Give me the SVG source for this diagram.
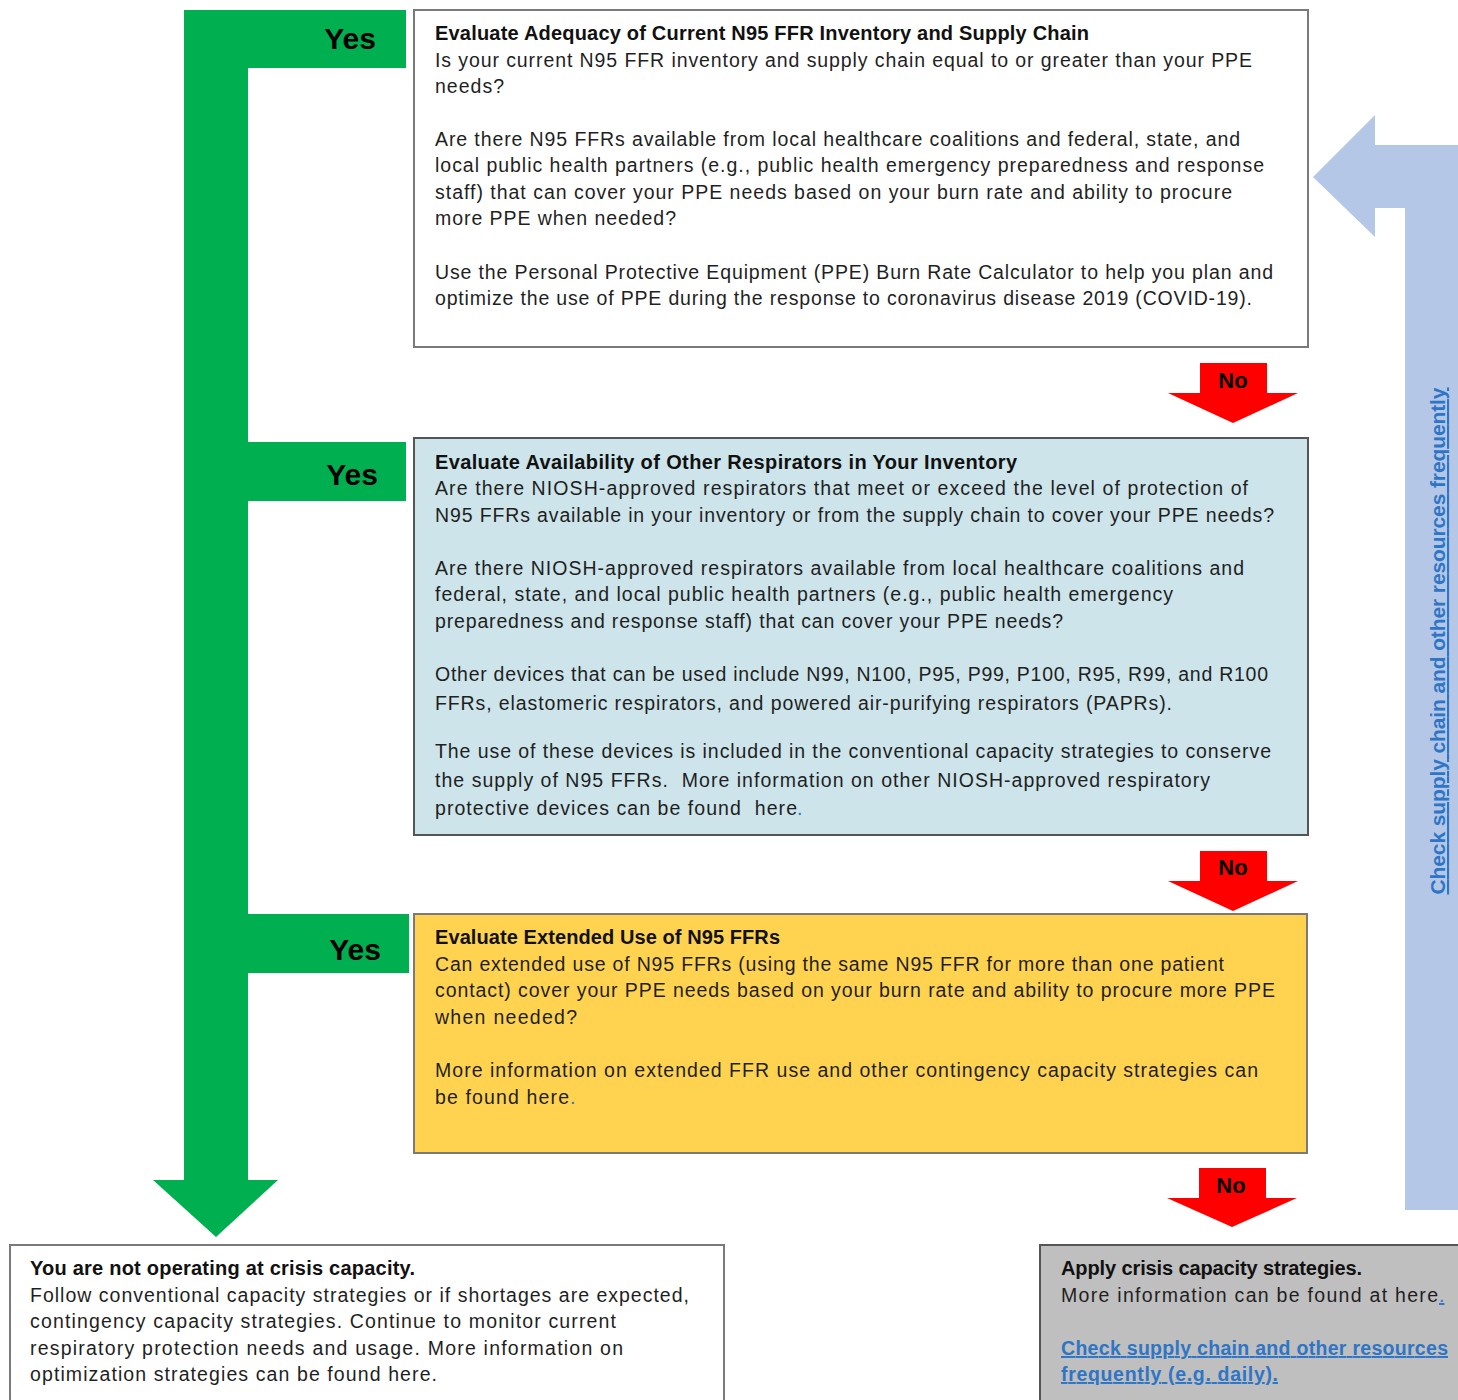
<svg xmlns="http://www.w3.org/2000/svg" width="1458" height="1400" viewBox="0 0 1458 1400">
<style>
text{font-family:"Liberation Sans",Arial,sans-serif;}
.t{font-size:19.5px;fill:#1f1f1f;}
.b{font-size:20px;font-weight:bold;fill:#111;}
.yes{font-size:30px;font-weight:bold;fill:#000;}
.no{font-size:22px;font-weight:bold;fill:#000;}
.lnk{fill:#2E75C6;}
.box{stroke:#7a7a7a;stroke-width:2;}
</style>
<rect x="0" y="0" width="1458" height="1400" fill="#fff"/>
<g id="connectors">
  <path id="yes-arrow" d="M184,10 H406 V68 H248 V442 H406 V501 H248 V914 H409 V973 H248 V1180 H278 L216,1237 L153,1180 H184 Z" fill="#00B050"/>
  <text class="yes" x="376" y="49" text-anchor="end">Yes</text>
  <text class="yes" x="378" y="485" text-anchor="end">Yes</text>
  <text class="yes" x="381" y="960" text-anchor="end">Yes</text>
  <path id="no1" d="M1200,363 H1267 V393 H1298 L1233,423 L1168,393 H1200 Z" fill="#FF0000"/>
  <text class="no" x="1233" y="388" text-anchor="middle">No</text>
  <path id="no2" d="M1200,851 H1267 V881 H1298 L1233,911 L1168,881 H1200 Z" fill="#FF0000"/>
  <text class="no" x="1233" y="875" text-anchor="middle">No</text>
  <path id="no3" d="M1199,1168 H1266 V1198 H1297 L1232,1227 L1167,1198 H1199 Z" fill="#FF0000"/>
  <text class="no" x="1231" y="1193" text-anchor="middle">No</text>
  <path id="loop-arrow" d="M1458,145 H1375 V115 L1313,177 L1375,237 V208 H1405 V1210 H1458 Z" fill="#B4C7E7"/>
  <text transform="translate(1445,641) rotate(-90)" text-anchor="middle" font-size="21" font-weight="bold" fill="#2E75C6" text-decoration="underline" textLength="507">Check supply chain and other resources frequently</text>
</g>
<g id="node-n95">
  <rect class="box" x="414" y="10" width="894" height="337" fill="#fff"/>
  <text class="b" x="435" y="40" textLength="654">Evaluate Adequacy of Current N95 FFR Inventory and Supply Chain</text>
  <text class="t" x="435" y="67" textLength="817">Is your current N95 FFR inventory and supply chain equal to or greater than your PPE</text>
  <text class="t" x="435" y="93" textLength="69">needs?</text>
  <text class="t" x="435" y="146" textLength="805">Are there N95 FFRs available from local healthcare coalitions and federal, state, and</text>
  <text class="t" x="435" y="172" textLength="829">local public health partners (e.g., public health emergency preparedness and response</text>
  <text class="t" x="435" y="199" textLength="797">staff) that can cover your PPE needs based on your burn rate and ability to procure</text>
  <text class="t" x="435" y="225" textLength="241">more PPE when needed?</text>
  <text class="t" x="435" y="279" textLength="838">Use the Personal Protective Equipment (PPE) Burn Rate Calculator to help you plan and</text>
  <text class="t" x="435" y="305" textLength="817">optimize the use of PPE during the response to coronavirus disease 2019 (COVID-19).</text>
</g>
<g id="node-other">
  <rect x="414" y="438" width="894" height="397" fill="#CDE4EA" stroke="#555" stroke-width="2"/>
  <text class="b" x="435" y="469" textLength="582">Evaluate Availability of Other Respirators in Your Inventory</text>
  <text class="t" x="435" y="495" textLength="813">Are there NIOSH-approved respirators that meet or exceed the level of protection of</text>
  <text class="t" x="435" y="522" textLength="839">N95 FFRs available in your inventory or from the supply chain to cover your PPE needs?</text>
  <text class="t" x="435" y="575" textLength="809">Are there NIOSH-approved respirators available from local healthcare coalitions and</text>
  <text class="t" x="435" y="601" textLength="738">federal, state, and local public health partners (e.g., public health emergency</text>
  <text class="t" x="435" y="628" textLength="628">preparedness and response staff) that can cover your PPE needs?</text>
  <text class="t" x="435" y="681" textLength="833">Other devices that can be used include N99, N100, P95, P99, P100, R95, R99, and R100</text>
  <text class="t" x="435" y="710" textLength="737">FFRs, elastomeric respirators, and powered air-purifying respirators (PAPRs).</text>
  <text class="t" x="435" y="758" textLength="836">The use of these devices is included in the conventional capacity strategies to conserve</text>
  <text class="t" x="435" y="787" textLength="775" xml:space="preserve">the supply of N95 FFRs.  More information on other NIOSH-approved respiratory</text>
  <text class="t" x="435" y="815" textLength="362" xml:space="preserve">protective devices can be found  here</text>
  <text class="t lnk" x="797" y="815">.</text>
</g>
<g id="node-extended">
  <rect class="box" x="414" y="914" width="893" height="239" fill="#FFD34F"/>
  <text class="b" x="435" y="944" textLength="345">Evaluate Extended Use of N95 FFRs</text>
  <text class="t" x="435" y="971" textLength="789">Can extended use of N95 FFRs (using the same N95 FFR for more than one patient</text>
  <text class="t" x="435" y="997" textLength="840">contact) cover your PPE needs based on your burn rate and ability to procure more PPE</text>
  <text class="t" x="435" y="1024" textLength="142">when needed?</text>
  <text class="t" x="435" y="1077" textLength="823">More information on extended FFR use and other contingency capacity strategies can</text>
  <text class="t" x="435" y="1104" textLength="134">be found here</text>
  <text class="t lnk" x="570" y="1104">.</text>
</g>
<g id="node-not-crisis">
  <rect class="box" x="10" y="1245" width="714" height="170" fill="#fff"/>
  <text class="b" x="30" y="1275" textLength="385">You are not operating at crisis capacity.</text>
  <text class="t" x="30" y="1302" textLength="659">Follow conventional capacity strategies or if shortages are expected,</text>
  <text class="t" x="30" y="1328" textLength="586">contingency capacity strategies. Continue to monitor current</text>
  <text class="t" x="30" y="1355" textLength="593">respiratory protection needs and usage. More information on</text>
  <text class="t" x="30" y="1381" textLength="407">optimization strategies can be found here.</text>
</g>
<g id="node-crisis">
  <rect x="1040" y="1245" width="430" height="170" fill="#BFBFBF" stroke="#555" stroke-width="2"/>
  <text class="b" x="1061" y="1275" textLength="301">Apply crisis capacity strategies.</text>
  <text class="t" x="1061" y="1302" textLength="377">More information can be found at here</text>
  <text class="t lnk" x="1439" y="1302" text-decoration="underline">.</text>
  <text class="lnk" x="1061" y="1355" font-size="19.5" font-weight="bold" text-decoration="underline" textLength="387">Check supply chain and other resources</text>
  <text class="lnk" x="1061" y="1381" font-size="19.5" font-weight="bold" text-decoration="underline" textLength="217">frequently (e.g. daily).</text>
</g>
</svg>
